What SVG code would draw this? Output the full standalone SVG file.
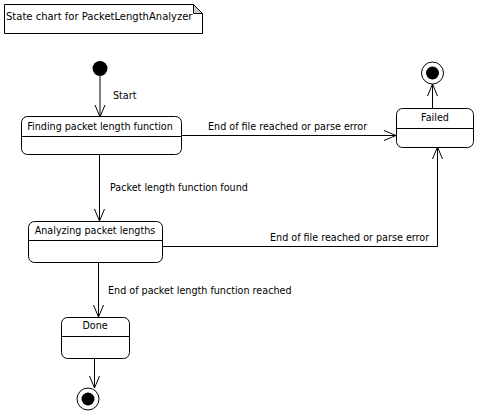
<svg xmlns="http://www.w3.org/2000/svg" width="488" height="416" viewBox="0 0 488 416">
<defs>
<style>
text{font-family:"DejaVu Sans","Liberation Sans",sans-serif;font-size:9.6px;fill:#000}
.t{font-size:10px}
.st{fill:#fff;stroke:#000;stroke-width:1}
.ln{fill:none;stroke:#000;stroke-width:1}
.c{text-anchor:middle}
</style>
<marker id="v" viewBox="-13 -6 14 12" markerWidth="14" markerHeight="12" refX="0" refY="0" orient="auto" markerUnits="userSpaceOnUse">
<path d="M-12,-5 L0,0 L-12,5" fill="none" stroke="#000" stroke-width="1"/>
</marker>
</defs>
<rect width="488" height="416" fill="#fff"/>
<g id="note">
<path class="st" d="M4.5,4.5 H193.5 L202.5,13.5 V33.5 H4.5 Z"/>
<path d="M193.5,4.5 V13.5 H202.5 Z" fill="#ccc" stroke="#000"/>
<text class="t" x="6" y="20">State chart for PacketLengthAnalyzer</text>
</g>
<g id="connectors">
<path class="ln" d="M100,76 V117" marker-end="url(#v)"/>
<text x="113" y="99">Start</text>
<path class="ln" d="M182,135.5 H396" marker-end="url(#v)"/>
<text x="208" y="130">End of file reached or parse error</text>
<path class="ln" d="M99.5,155 V221" marker-end="url(#v)"/>
<text x="110" y="191">Packet length function found</text>
<path class="ln" d="M163,246.5 H437.5 V147" marker-end="url(#v)"/>
<text x="270" y="241">End of file reached or parse error</text>
<path class="ln" d="M98.5,263 V317" marker-end="url(#v)"/>
<text x="108" y="294">End of packet length function reached</text>
<path class="ln" d="M94.5,359 V388" marker-end="url(#v)"/>
<path class="ln" d="M432.5,108 V84" marker-end="url(#v)"/>
</g>
<g id="start">
<circle cx="100" cy="68.5" r="7.5" fill="#000"/>
</g>
<g id="finding">
<rect class="st" x="21.5" y="116.5" width="160" height="38" rx="6"/>
<line class="ln" x1="21.5" y1="136.5" x2="181.5" y2="136.5"/>
<text class="c" x="100" y="130">Finding packet length function</text>
</g>
<g id="failed">
<rect class="st" x="396.5" y="108.5" width="77" height="39" rx="6"/>
<line class="ln" x1="396.5" y1="128.5" x2="473.5" y2="128.5"/>
<text class="c" x="435" y="121">Failed</text>
</g>
<g id="analyzing">
<rect class="st" x="28.5" y="221.5" width="134" height="41" rx="6"/>
<line class="ln" x1="28.5" y1="240.5" x2="162.5" y2="240.5"/>
<text class="c" x="95" y="234">Analyzing packet lengths</text>
</g>
<g id="done">
<rect class="st" x="61.5" y="317.5" width="68" height="41" rx="6"/>
<line class="ln" x1="61.5" y1="336.5" x2="129.5" y2="336.5"/>
<text class="c" x="95" y="329">Done</text>
</g>
<g id="final1">
<circle class="st" cx="432.5" cy="73" r="11"/>
<circle cx="432.5" cy="73" r="6.5" fill="#000"/>
</g>
<g id="final2">
<circle class="st" cx="88" cy="399" r="11"/>
<circle cx="88" cy="399" r="6.5" fill="#000"/>
</g>
</svg>
